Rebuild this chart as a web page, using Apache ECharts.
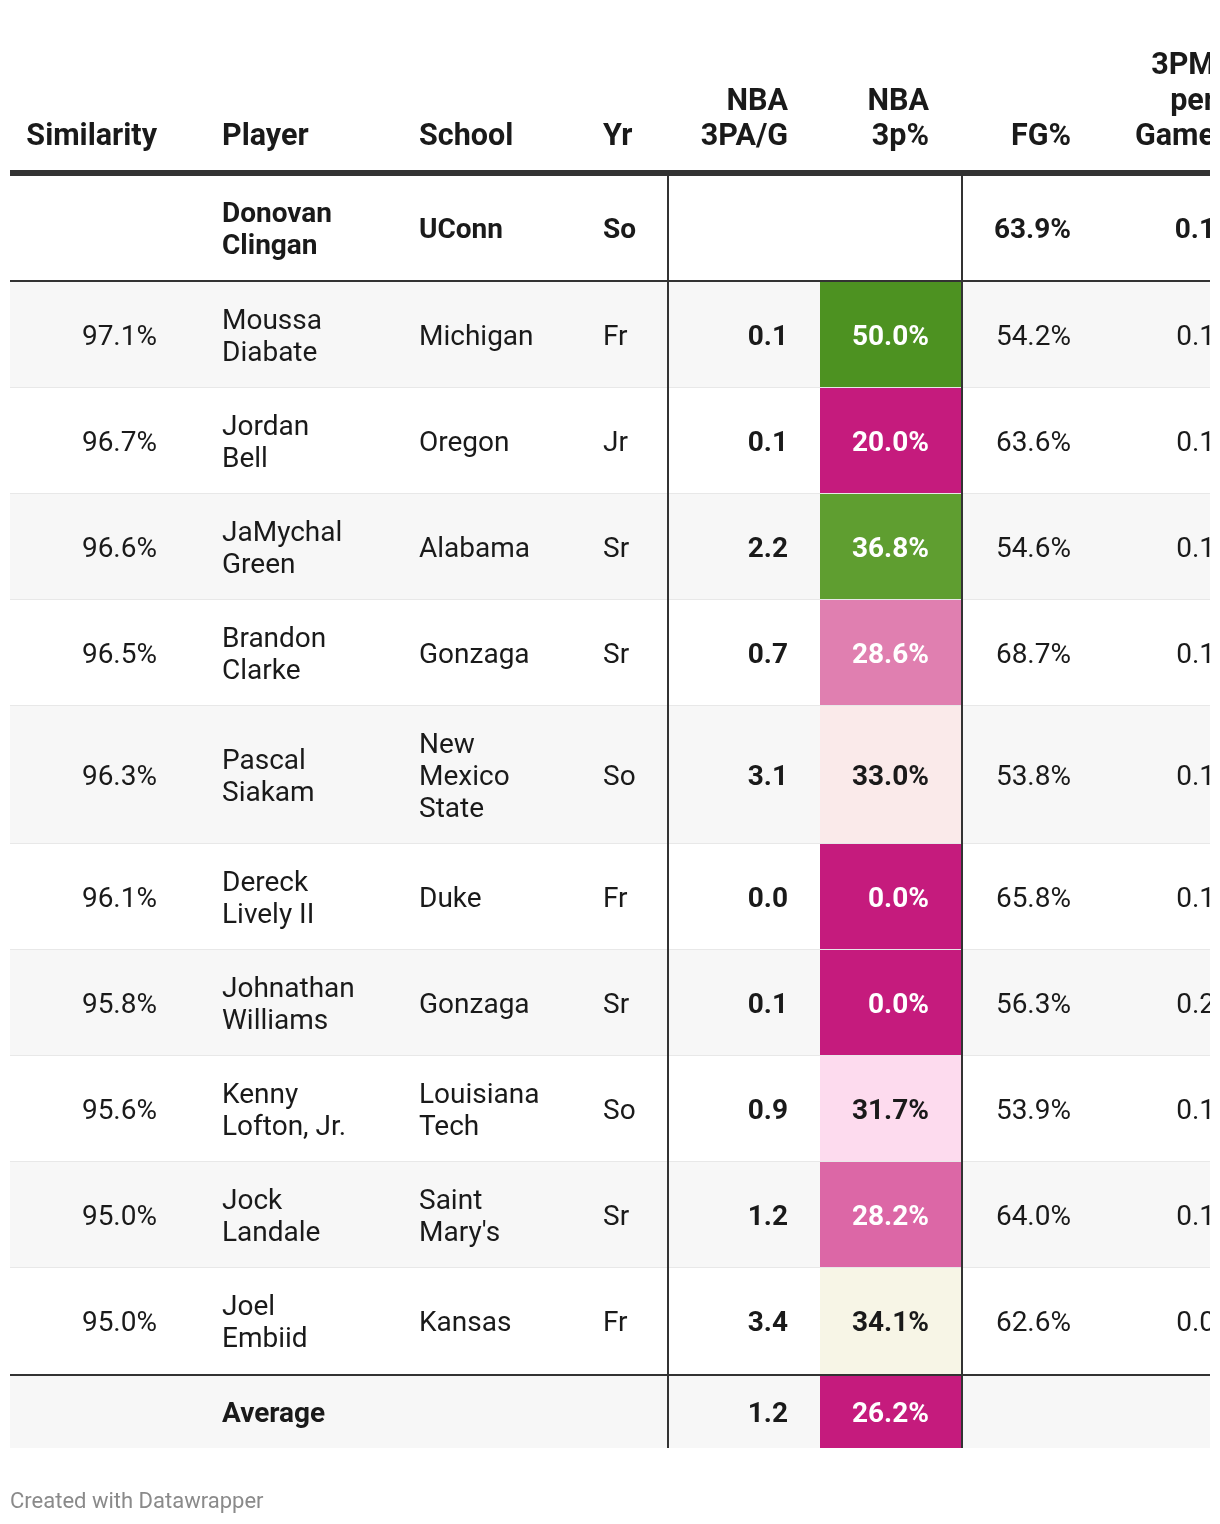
<!DOCTYPE html>
<html>
<head>
<meta charset="utf-8">
<script src="https://cdn.jsdelivr.net/npm/echarts@6/dist/echarts.min.js"></script>
<style>
html,body{margin:0;padding:0;background:#fff;}
#chart{width:1220px;height:1524px;}
</style>
</head>
<body>
<div id="chart"></div>
<script>
// ---------------- DATA ----------------
const headers = ["Similarity", "Player", "School", "Yr", "NBA\n3PA/G", "NBA\n3p%", "FG%", "3PM\nper\nGame"];
const players = ["Donovan\nClingan", "Moussa\nDiabate", "Jordan\nBell", "JaMychal\nGreen", "Brandon\nClarke", "Pascal\nSiakam", "Dereck\nLively II", "Johnathan\nWilliams", "Kenny\nLofton, Jr.", "Jock\nLandale", "Joel\nEmbiid"];
const schools = ["UConn", "Michigan", "Oregon", "Alabama", "Gonzaga", "New\nMexico\nState", "Duke", "Gonzaga", "Louisiana\nTech", "Saint\nMary's", "Kansas"];
const years = ["So", "Fr", "Jr", "Sr", "Sr", "So", "Fr", "Sr", "So", "Sr", "Fr"];
const similarity = [null, 97.1, 96.7, 96.6, 96.5, 96.3, 96.1, 95.8, 95.6, 95.0, 95.0];
const nba3PAperGame = [null, 0.1, 0.1, 2.2, 0.7, 3.1, 0.0, 0.1, 0.9, 1.2, 3.4];
const nba3Ppct = [null, 50.0, 20.0, 36.8, 28.6, 33.0, 0.0, 0.0, 31.7, 28.2, 34.1];
const fgPct = [63.9, 54.2, 63.6, 54.6, 68.7, 53.8, 65.8, 56.3, 53.9, 64.0, 62.6];
const threePMperGame = [0.1, 0.1, 0.1, 0.1, 0.1, 0.1, 0.1, 0.2, 0.1, 0.1, 0.0];
const averageLabel = "Average";
const average3PAperGame = 1.2;
const average3Ppct = 26.2;
const footerText = "Created with Datawrapper";

// ---------------- STYLE / LAYOUT ----------------
const FONT = 'Roboto, "Noto Sans", sans-serif';
const TEXT = '#1a1a1a';
const RULE = '#333333';
const STRIPE = '#f7f7f7';
const SEP = '#e8e8e8';
const BODY_SIZE = 28, HEAD_SIZE = 30.5, LH = 32, HEAD_LH = 35.5;
const TEXT_DY = 3, HEAD_DY = 2.5;
const COL = { left: 10, right: 1210, sim: 157, player: 222, school: 419, yr: 603, pa: 788, pct: 929, fg: 1071, pm: 1215, heatL: 820, heatR: 962, v1: 668, v2: 962 };
const HEAD_LAST_LINE = 135, THICK_TOP = 170, THICK_BOTTOM = 176;
// diverging colour scale for NBA 3p%
const heatStops = [[0, '#c51b7d'], [26.5, '#c51b7d'], [28.2, '#dc67a6'], [28.6, '#e07fb0'], [31.7, '#fddbee'], [33.0, '#faeaea'], [34.1, '#f7f5e6'], [36.8, '#5f9e30'], [50, '#4d9221'], [100, '#4d9221']];

function hex2rgb(h) { return [parseInt(h.slice(1, 3), 16), parseInt(h.slice(3, 5), 16), parseInt(h.slice(5, 7), 16)]; }
function heatColor(v) {
  for (let i = 0; i < heatStops.length - 1; i++) {
    const a = heatStops[i], b = heatStops[i + 1];
    if (v >= a[0] && v <= b[0]) {
      const t = b[0] === a[0] ? 0 : (v - a[0]) / (b[0] - a[0]);
      const ca = hex2rgb(a[1]), cb = hex2rgb(b[1]);
      const c = ca.map((x, k) => Math.round(x + (cb[k] - x) * t));
      return 'rgb(' + c.join(',') + ')';
    }
  }
  return heatStops[heatStops.length - 1][1];
}
function isDark(col) {
  const m = col.match(/\d+/g).map(Number);
  const l = 0.299 * m[0] + 0.587 * m[1] + 0.114 * m[2];
  return l < 170;
}
const lines = s => (s ? String(s).split('\n').length : 1);

// row layout built from the data
const rowLayout = [];
(function () {
  let y = THICK_BOTTOM;
  const h0 = Math.max(lines(players[0]), lines(schools[0])) * LH + 40;
  rowLayout.push({ idx: 0, kind: 'ref', top: y, bottom: y + h0 });
  y += h0 + 2;
  for (let i = 1; i < players.length; i++) {
    const h = Math.max(lines(players[i]), lines(schools[i])) * LH + 42;
    rowLayout.push({ idx: i, kind: 'body', top: y, bottom: y + h, stripe: i % 2 === 1 });
    y += h;
  }
  y += 2;
  rowLayout.push({ idx: -1, kind: 'avg', top: y, bottom: y + LH + 40, stripe: true });
})();
const refRow = rowLayout[0];
const avgRow = rowLayout[rowLayout.length - 1];

const chart = echarts.init(document.getElementById('chart'), null, { renderer: 'canvas' });

function textEl(api, x, y, s, align, bold, fill, size, lh) {
  const p = api.coord([x, y]);
  return {
    type: 'text',
    style: {
      text: s, x: p[0], y: p[1], align: align, verticalAlign: 'middle',
      fontSize: size || BODY_SIZE, fontWeight: bold ? 'bold' : 'normal', fontFamily: FONT,
      lineHeight: lh || LH, fill: fill || TEXT
    }
  };
}
function rectEl(api, x0, y0, x1, y1, fill) {
  const p0 = api.coord([x0, y0]), p1 = api.coord([x1, y1]);
  return { type: 'rect', shape: { x: p0[0], y: p0[1], width: p1[0] - p0[0], height: p1[1] - p0[1] }, style: { fill: fill } };
}
const fmtPct = v => v.toFixed(1) + '%';
const fmt1 = v => v.toFixed(1);

function renderRow(params, api) {
  const r = rowLayout[api.value(0)];
  const cy = (r.top + r.bottom) / 2 + TEXT_DY;
  const ch = [];
  if (r.stripe) ch.push(rectEl(api, COL.left, r.top, COL.right, r.bottom, STRIPE));
  if (r.kind === 'body') {
    const i = r.idx;
    const hc = heatColor(nba3Ppct[i]);
    ch.push(rectEl(api, COL.heatL, r.top, COL.heatR, r.bottom, hc));
    if (i < players.length - 1) ch.push(rectEl(api, COL.left, r.bottom - 1, COL.right, r.bottom, SEP));
    ch.push(textEl(api, COL.sim, cy, fmtPct(similarity[i]), 'right', false));
    ch.push(textEl(api, COL.player, cy, players[i], 'left', false));
    ch.push(textEl(api, COL.school, cy, schools[i], 'left', false));
    ch.push(textEl(api, COL.yr, cy, years[i], 'left', false));
    ch.push(textEl(api, COL.pa, cy, fmt1(nba3PAperGame[i]), 'right', true));
    ch.push(textEl(api, COL.pct, cy, fmtPct(nba3Ppct[i]), 'right', true, isDark(hc) ? '#ffffff' : TEXT));
    ch.push(textEl(api, COL.fg, cy, fmtPct(fgPct[i]), 'right', false));
    ch.push(textEl(api, COL.pm, cy, fmt1(threePMperGame[i]), 'right', false));
  } else if (r.kind === 'ref') {
    ch.push(textEl(api, COL.player, cy, players[0], 'left', true));
    ch.push(textEl(api, COL.school, cy, schools[0], 'left', true));
    ch.push(textEl(api, COL.yr, cy, years[0], 'left', true));
    ch.push(textEl(api, COL.fg, cy, fmtPct(fgPct[0]), 'right', true));
    ch.push(textEl(api, COL.pm, cy, fmt1(threePMperGame[0]), 'right', true));
  } else {
    const hc = heatColor(average3Ppct);
    ch.push(rectEl(api, COL.heatL, r.top, COL.heatR, r.bottom, hc));
    ch.push(textEl(api, COL.player, cy, averageLabel, 'left', true));
    ch.push(textEl(api, COL.pa, cy, fmt1(average3PAperGame), 'right', true));
    ch.push(textEl(api, COL.pct, cy, fmtPct(average3Ppct), 'right', true, isDark(hc) ? '#ffffff' : TEXT));
  }
  return { type: 'group', children: ch };
}

function renderHeader(params, api) {
  const anchors = [[COL.sim, 'right'], [COL.player, 'left'], [COL.school, 'left'], [COL.yr, 'left'], [COL.pa, 'right'], [COL.pct, 'right'], [COL.fg, 'right'], [COL.pm, 'right']];
  const ch = headers.map((h, k) => {
    const n = lines(h);
    const cy = HEAD_LAST_LINE + HEAD_DY - (n - 1) * HEAD_LH / 2;
    return textEl(api, anchors[k][0], cy, h, anchors[k][1], true, TEXT, HEAD_SIZE, HEAD_LH);
  });
  return { type: 'group', children: ch };
}

function renderRules(params, api) {
  const ch = [];
  ch.push(rectEl(api, COL.left, THICK_TOP, COL.right, THICK_BOTTOM, RULE));
  ch.push(rectEl(api, COL.left, refRow.bottom, COL.right, refRow.bottom + 2, RULE));
  ch.push(rectEl(api, COL.left, avgRow.top - 2, COL.right, avgRow.top, RULE));
  ch.push(rectEl(api, COL.v1 - 1, THICK_BOTTOM, COL.v1 + 1, avgRow.bottom, RULE));
  ch.push(rectEl(api, COL.v2 - 1, THICK_BOTTOM, COL.v2 + 1, avgRow.bottom, RULE));
  return { type: 'group', children: ch };
}

chart.setOption({
  animation: false,
  backgroundColor: '#ffffff',
  grid: { left: 10, right: 10, top: 0, bottom: 0 },
  xAxis: { type: 'value', min: 10, max: 1210, show: false },
  yAxis: { type: 'value', min: 0, max: 1524, inverse: true, show: false },
  graphic: [{
    type: 'text', left: 10, top: 1491,
    style: { text: footerText, fontSize: 22, fontFamily: FONT, fill: '#8a8a8a' }
  }],
  series: [
    { type: 'custom', clip: true, renderItem: renderRow, data: rowLayout.map((r, k) => [k]), silent: true },
    { type: 'custom', clip: true, renderItem: renderHeader, data: [[0]], silent: true },
    { type: 'custom', clip: true, renderItem: renderRules, data: [[0]], silent: true }
  ]
});
</script>
</body>
</html>
